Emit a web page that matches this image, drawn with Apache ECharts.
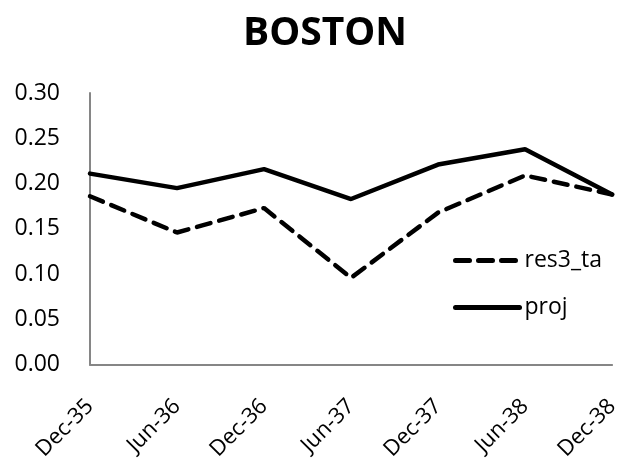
<!DOCTYPE html>
<html>
<head>
<meta charset="utf-8">
<script src="https://cdn.jsdelivr.net/npm/echarts@6/dist/echarts.min.js"></script>
<style>
  html, body { margin: 0; padding: 0; background: #fff; }
  #chart { width: 622px; height: 463px; }
</style>
</head>
<body>
<div id="chart"></div>
<script>
// categories and values
const months = ['Dec-35', 'Jun-36', 'Dec-36', 'Jun-37', 'Dec-37', 'Jun-38', 'Dec-38'];
const res3Ta = [0.186, 0.146, 0.173, 0.096, 0.168, 0.209, 0.188];
const proj = [0.211, 0.195, 0.216, 0.183, 0.221, 0.238, 0.188];

const font = 'Open Sans';

const option = {
  animation: false,
  title: {
    text: 'BOSTON',
    left: 238,
    top: 9,
    textStyle: { fontFamily: font, fontWeight: 'bold', fontSize: 39, color: '#000' }
  },
  legend: {
    orient: 'vertical',
    left: 448,
    top: 244,
    itemWidth: 64,
    itemHeight: 14,
    itemGap: 24,
    itemStyle: { opacity: 0 },
    lineStyle: { width: 5 },
    textStyle: { fontFamily: font, fontSize: 23, color: '#000' },
    data: ['res3_ta', 'proj']
  },
  grid: {
    left: 90,
    right: 9,
    top: 93,
    bottom: 97
  },
  xAxis: {
    type: 'category',
    boundaryGap: false,
    data: months,
    axisLine: { lineStyle: { color: '#868686', width: 2 } },
    axisTick: { show: false },
    axisLabel: {
      rotate: 45,
      margin: 38,
      fontFamily: font,
      fontSize: 22,
      color: '#000'
    }
  },
  yAxis: {
    type: 'value',
    min: 0,
    max: 0.3,
    interval: 0.05,
    splitLine: { show: false },
    axisLine: { show: true, lineStyle: { color: '#868686', width: 2 } },
    axisTick: { show: false },
    axisLabel: {
      margin: 30,
      fontFamily: font,
      fontSize: 23,
      color: '#000',
      formatter: v => v.toFixed(2)
    }
  },
  series: [
    {
      name: 'res3_ta',
      type: 'line',
      data: res3Ta,
      symbol: 'none',
      color: '#000',
      lineStyle: { color: '#000', width: 4.5, type: [14, 9], cap: 'round' }
    },
    {
      name: 'proj',
      type: 'line',
      data: proj,
      symbol: 'none',
      color: '#000',
      lineStyle: { color: '#000', width: 4.5, cap: 'round' }
    }
  ]
};

const myChart = echarts.init(document.getElementById('chart'));
myChart.setOption(option);
</script>
</body>
</html>
